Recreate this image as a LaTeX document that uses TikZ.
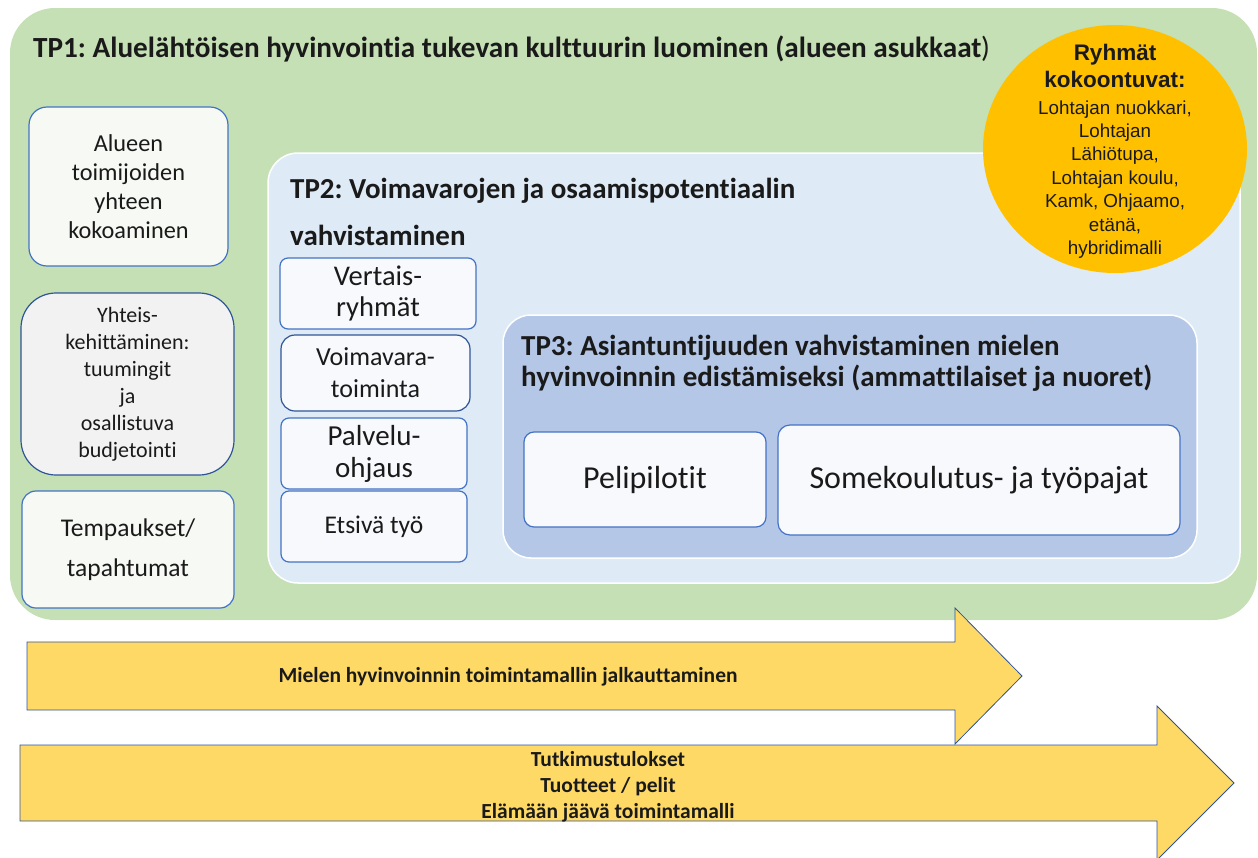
\documentclass[tikz,border=0pt]{standalone}
\usepackage{fontspec}
\setmainfont{Carlito}[Ligatures={NoCommon,NoContextual}]
\newfontfamily\arialf{Liberation Sans}
\usetikzlibrary{shapes.geometric}
\frenchspacing
\definecolor{tpgreen}{HTML}{C5E0B4}
\definecolor{tpblue}{HTML}{DEEBF7}
\definecolor{tpdeep}{HTML}{B4C7E7}
\definecolor{circ}{HTML}{FFC000}
\definecolor{arrfill}{HTML}{FFD966}
\definecolor{bordblue}{HTML}{4472C4}
\definecolor{darkblue}{HTML}{2F5597}
\definecolor{boxfill}{HTML}{F7F9F4}
\definecolor{boxfillb}{HTML}{F7F9FC}
\definecolor{txt}{HTML}{1A1A1A}
\tikzset{
  area/.style={draw=white, line width=1.5pt, inner sep=0pt},
  itembox/.style={draw=bordblue, line width=1.2pt, fill=boxfillb, inner sep=0pt, align=center, text=txt},
  leftbox/.style={itembox, fill=boxfill},
  title/.style={anchor=base west, inner sep=0pt, align=left, text=txt},
  bigarrow/.style={fill=arrfill, draw=darkblue, line width=0.8pt},
  arrlabel/.style={inner sep=0pt, align=center, text=txt, font=\bfseries\fontsize{21.5}{26}\selectfont}
}
\begin{document}
\begin{tikzpicture}[x=1pt,y=-1pt]
\useasboundingbox (0,0) rectangle (1258,857);
% TP1
\node[fill=tpgreen, rounded corners=45pt, minimum width=1247pt, minimum height=612pt, inner sep=0pt] (tp1) at (633.5,314) {};
\node[title, font=\fontsize{29.2}{34}\selectfont] (tp1t) at (33,57) {\textbf{TP1: Aluelähtöisen hyvinvointia tukevan kulttuurin luominen (alueen asukkaat})};
% TP2
\node[area, fill=tpblue, rounded corners=30pt, minimum width=972pt, minimum height=430pt] (tp2) at (754,368) {};
\node[title, font=\bfseries\fontsize{29}{47}\selectfont] (tp2t) at (290,245) {TP2: Voimavarojen ja osaamispotentiaalin\\vahvistaminen};
% TP3
\node[area, fill=tpdeep, rounded corners=28pt, minimum width=694pt, minimum height=243pt] (tp3) at (850,436.5) {};
\node[title, font=\bfseries\fontsize{29}{31}\selectfont] (tp3t) at (521,386) {TP3: Asiantuntijuuden vahvistaminen mielen\\hyvinvoinnin edistämiseksi (ammattilaiset ja nuoret)};
\node[itembox, rounded corners=10pt, minimum width=242pt, minimum height=95pt, font=\fontsize{32}{38}\selectfont] (peli) at (645,479.5) {Pelipilotit};
\node[itembox, rounded corners=12pt, minimum width=402pt, minimum height=110pt, font=\fontsize{32}{38}\selectfont] (some) at (979,480) {Somekoulutus- ja työpajat};
% left boxes
\node[leftbox, rounded corners=18pt, minimum width=199pt, minimum height=159pt, font=\fontsize{24.3}{29}\selectfont] (alue) at (128.5,186.5) {Alueen\\toimijoiden\\yhteen\\kokoaminen};
\node[leftbox, draw=darkblue, fill=white!95!black, rounded corners=35pt, minimum width=213pt, minimum height=182pt, font=\fontsize{22}{27}\selectfont] (yht) at (127.5,384) {Yhteis-\\kehittäminen:\\tuumingit\\ja\\osallistuva\\budjetointi};
\node[leftbox, rounded corners=14pt, minimum width=212pt, minimum height=117pt, font=\fontsize{25.5}{40}\selectfont] (temp) at (128,549.5) {Tempaukset/\\tapahtumat};
% TP2 items
\node[itembox, rounded corners=8pt, minimum width=196pt, minimum height=71pt, font=\fontsize{28.5}{31}\selectfont] (vert) at (378,293.5) {Vertais-\\ryhmät};
\node[itembox, draw=darkblue, rounded corners=14pt, minimum width=189pt, minimum height=76pt, font=\fontsize{26}{32}\selectfont] (voim) at (375.5,373) {Voimavara-\\toiminta};
\node[itembox, rounded corners=8pt, minimum width=186pt, minimum height=71pt, font=\fontsize{29}{32}\selectfont] (palv) at (374,453.5) {Palvelu-\\ohjaus};
\node[itembox, rounded corners=8pt, minimum width=186pt, minimum height=71pt, font=\fontsize{25.5}{30}\selectfont] (etsi) at (374,526.5) {Etsivä työ};
% circle
\node[ellipse, fill=circ, minimum width=264pt, minimum height=248pt, inner sep=0pt] (circ) at (1115,149) {};
\node[inner sep=0pt, align=center, text=txt, font=\arialf\fontsize{18.8}{23.4}\selectfont] (circt) at (1115,151) {{\bfseries\fontsize{22.5}{27}\selectfont Ryhmät}\\[3.6pt]{\bfseries\fontsize{22.5}{27}\selectfont kokoontuvat:}\\[3.6pt]Lohtajan nuokkari,\\Lohtajan\\Lähiötupa,\\ Lohtajan koulu,\\Kamk, Ohjaamo,\\etänä,\\hybridimalli};
% arrows
\draw[bigarrow] (27,642) -- (955,642) -- (955,608) -- (1022,676) -- (955,744) -- (955,710) -- (27,710) -- cycle;
\node[arrlabel] (a1) at (508,677) {Mielen hyvinvoinnin toimintamallin jalkauttaminen};
\draw[bigarrow] (20,745) -- (1157,745) -- (1157,706) -- (1234,783) -- (1157,860) -- (1157,821) -- (20,821) -- cycle;
\node[arrlabel] (a2) at (608,787) {Tutkimustulokset\\Tuotteet / pelit\\Elämään jäävä toimintamalli};
\end{tikzpicture}
\end{document}
